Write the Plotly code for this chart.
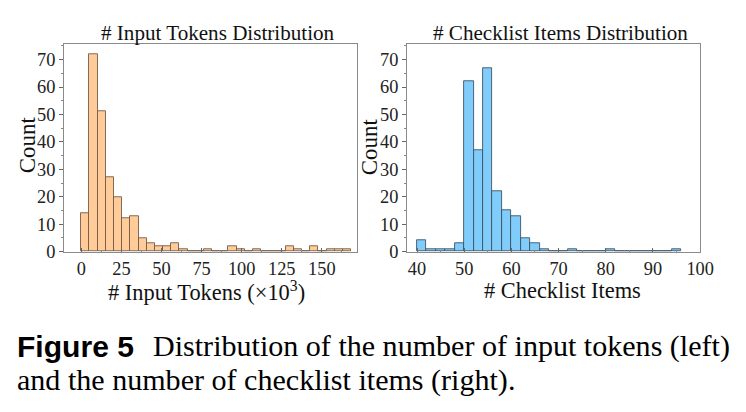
import plotly.graph_objects as go

# ---- data ----
token_bin_start = 0.0
token_bin_width = 5.1
token_counts = [14, 72, 51, 27, 20, 12, 13, 5, 3, 2, 2, 3, 1, 0, 0, 1, 0, 0,
                2, 1, 0, 1, 0, 0, 0, 2, 1, 0, 2, 0, 1, 1, 1]

item_bin_start = 40
item_bin_width = 2
item_counts = [4, 1, 1, 1, 3, 62, 37, 67, 22, 15, 13, 5, 3, 1, 0, 0, 1, 0, 0,
               0, 1, 0, 0, 0, 0, 0, 0, 1]

token_ticks = [0, 25, 50, 75, 100, 125, 150]
item_ticks = [40, 50, 60, 70, 80, 90, 100]
count_ticks = [0, 10, 20, 30, 40, 50, 60, 70]

W, H = 746, 412
S = 0.981          # the page photo comes out slightly shrunk; compensate
SERIF = "Liberation Serif"

tok_left = [token_bin_start + i * token_bin_width for i in range(len(token_counts))]
item_left = [item_bin_start + i * item_bin_width for i in range(len(item_counts))]

fig = go.Figure()
fig.add_trace(go.Bar(x=tok_left, y=token_counts, width=token_bin_width, offset=0,
                     marker=dict(color="#FFCB99", line=dict(color="rgba(110,85,65,0.85)", width=1)),
                     xaxis="x", yaxis="y", showlegend=False))
fig.add_trace(go.Bar(x=item_left, y=item_counts, width=item_bin_width, offset=0,
                     marker=dict(color="#80CDFC", line=dict(color="rgba(55,75,95,0.85)", width=1)),
                     xaxis="x2", yaxis="y2", showlegend=False))

def px(x):
    return min(x / S / W, 1.0)

def py(y):
    return 1 - y / S / H

def fs(v):
    return v / S

axcommon = dict(showgrid=False, zeroline=False, showline=True, mirror=True,
                linecolor="#8a8a8a", linewidth=1,
                tickfont=dict(family=SERIF, size=fs(18), color="#222"))

xd1 = [px(64), px(357)]
xd2 = [px(407), px(700)]
yd = [py(253), py(44.5)]

fig.update_layout(
    width=W, height=H, margin=dict(l=0, r=0, t=0, b=0), autosize=False,
    paper_bgcolor="white", plot_bgcolor="white", bargap=0,
    xaxis=dict(domain=xd1, range=[-10.8, 172], tickvals=token_ticks, ticks="inside",
               ticklen=4, tickcolor="#666",
               minor=dict(dtick=12.5, tick0=0, ticks="inside", ticklen=2, tickcolor="#888"),
               anchor="y", **axcommon),
    yaxis=dict(domain=yd, range=[0, 75.6], tickvals=count_ticks, ticks="outside",
               ticklen=4, tickcolor="#666",
               minor=dict(dtick=5, tick0=0, ticks="outside", ticklen=2, tickcolor="#888"),
               anchor="x", **axcommon),
    xaxis2=dict(domain=xd2, range=[37.9, 100], tickvals=item_ticks, ticks="inside",
                ticklen=4, tickcolor="#666",
                minor=dict(dtick=5, tick0=0, ticks="inside", ticklen=2, tickcolor="#888"),
                anchor="y2", **axcommon),
    yaxis2=dict(domain=yd, range=[0, 75.6], tickvals=count_ticks, ticks="outside",
                ticklen=4, tickcolor="#666",
                minor=dict(dtick=5, tick0=0, ticks="outside", ticklen=2, tickcolor="#888"),
                anchor="x2", **axcommon),
)

def ann(text, x, y, size, angle=0, family=SERIF, xanchor="center", color="#111"):
    fig.add_annotation(text=text, x=px(x), y=py(y), xref="paper", yref="paper",
                       showarrow=False, textangle=angle, xanchor=xanchor, yanchor="middle",
                       font=dict(family=family, size=fs(size), color=color))

ann("# Input Tokens Distribution", 218, 33, 20.7)
ann("# Checklist Items Distribution", 560, 33, 20.7)
ann("# Input Tokens (×10<sup>3</sup>)", 206, 293, 22)
ann("# Checklist Items", 562, 292, 22)
ann("Count", 27, 146, 22.5, angle=-90)
ann("Count", 369, 148, 22.5, angle=-90)

# caption
ann("<b>Figure 5</b>", 15, 348, 29.5, family="Liberation Sans", xanchor="left", color="#000")
ann("Distribution of the number of input tokens (left)", 735, 348, 29.5, xanchor="right", color="#000")
ann("and the number of checklist items (right).", 15, 382, 29.5, xanchor="left", color="#000")

fig.write_html("out.html",
               post_script="document.body.style.margin='0';document.body.style.overflow='hidden';")
